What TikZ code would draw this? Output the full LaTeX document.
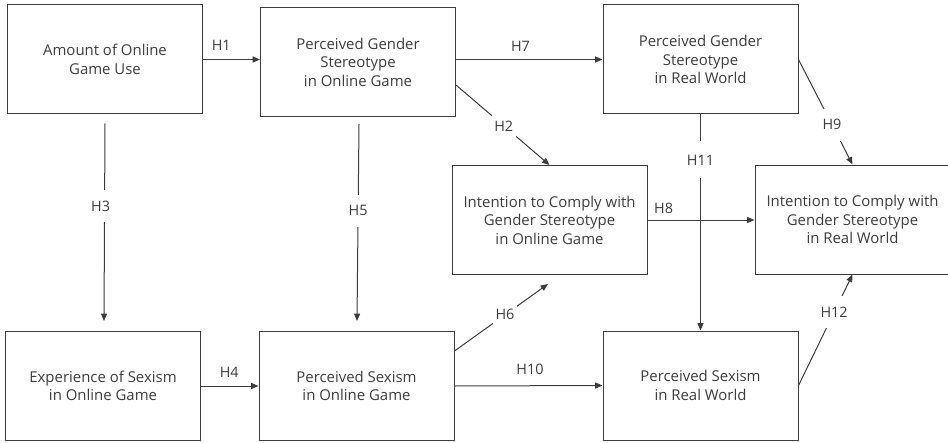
\documentclass[tikz,border=0pt]{standalone}
\usepackage{fontspec}
\setmainfont{Open Sans}
\usetikzlibrary{arrows.meta,calc}
\definecolor{ln}{RGB}{60,60,60}
\definecolor{tx}{RGB}{60,60,60}
\tikzset{
  x=0.75pt, y=-0.75pt,
  box/.style={draw=ln, line width=0.75pt, minimum width=146.25pt, minimum height=81.75pt,
    align=center, inner sep=0pt, text=tx, font=\fontsize{11.2}{13.9}\selectfont},
  conn/.style={draw=ln, line width=0.75pt, -{Triangle[length=5.5pt,width=4.5pt]}},
  hl/.style={text=tx, font=\fontsize{10.8}{12}\selectfont, inner sep=0pt},
  hlf/.style={hl, fill=white, inner xsep=2pt, inner ysep=9pt},
}
\begin{document}
\begin{tikzpicture}
\useasboundingbox (0,0) rectangle (948,442);
\node[box] (A) at (105,59.5) {Amount of Online\\Game Use};
\node[box] (B) at (358,62) {Perceived Gender\\Stereotype\\in Online Game};
\node[box] (C) at (700.5,59.5) {Perceived Gender\\Stereotype\\in Real World};
\node[box] (D) at (549.5,220) {Intention to Comply with\\Gender Stereotype\\in Online Game};
\node[box] (E) at (852.5,219.5) {Intention to Comply with\\Gender Stereotype\\in Real World};
\node[box] (F) at (103,386) {Experience of Sexism\\in Online Game};
\node[box] (G) at (356.5,386) {Perceived Sexism\\in Online Game};
\node[box] (H) at (700.5,385.5) {Perceived Sexism\\in Real World};

\coordinate (h2s) at ($(B.north east)+(0,78)$);
\coordinate (h6s) at ($(G.north east)+(0,20)$);
\coordinate (h6e) at ($(D.south)+(-1.5,9)$);
\coordinate (h3s) at ($(A.south)+(0,9)$);
\coordinate (h3e) at ($(F.north)+(1,-10)$);
\coordinate (h5s) at ($(B.south)+(1,7)$);
\coordinate (h5e) at ($(G.north)+(0.5,-10)$);

\draw[conn] (A.east) -- (A.east -| B.west) node[hl, pos=0.32, yshift=10.5pt] {H1};
\draw[conn] (C.west -| B.east) -- (C.west) node[hl, pos=0.44, yshift=9.75pt] {H7};
\draw[conn] (h2s) -- (D.north) node[hlf, pos=0.51, inner ysep=6pt] {H2};
\draw[conn] (C.east) -- (E.north) node[hlf, pos=0.62, inner ysep=8pt] {H9};
\draw[conn] (C.south) -- (H.north) node[hlf, pos=0.21, inner ysep=10pt] {H11};
\draw[conn] (D.east) -- (D.east -| E.west) node[hl, pos=0.15, yshift=9pt] {H8};
\draw[conn] (h3s) -- (h3e) node[hlf, pos=0.42, xshift=-3pt, inner ysep=8pt] {H3};
\draw[conn] (h5s) -- (h5e) node[hlf, pos=0.44, inner ysep=8pt] {H5};
\draw[conn] (F.east) -- (G.west) node[hl, pos=0.49, yshift=10.5pt] {H4};
\draw[conn] (G.east) -- (H.west) node[hl, pos=0.51, yshift=12pt] {H10};
\draw[conn] (h6s) -- (h6e) node[hlf, pos=0.54, inner ysep=6pt] {H6};
\draw[conn] (H.east) -- (E.south) node[hlf, pos=0.66, inner ysep=8pt] {H12};
\end{tikzpicture}
\end{document}
